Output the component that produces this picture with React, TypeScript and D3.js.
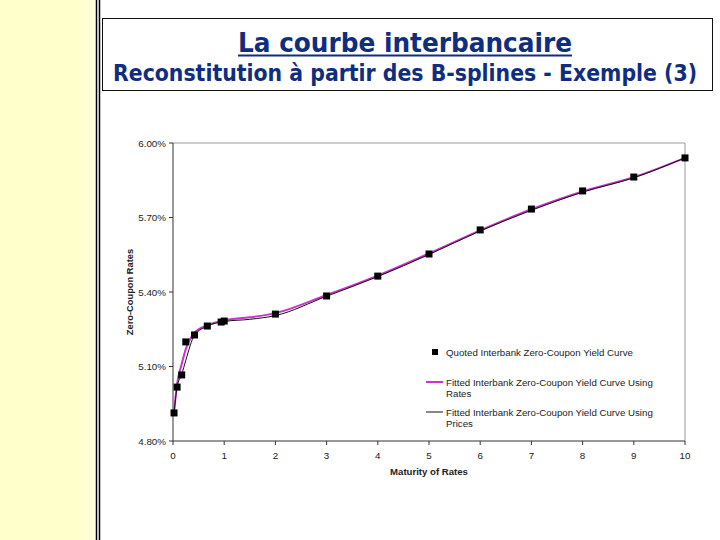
import React from "react";
import * as d3 from "d3";

const quotedMaturities = [0.02, 0.08, 0.17, 0.25, 0.42, 0.67, 0.94, 1.0, 2, 3, 4, 5, 6, 7, 8, 9, 10];
const quotedRates = [4.913, 5.017, 5.066, 5.199, 5.227, 5.263, 5.279, 5.283, 5.311, 5.384, 5.464, 5.553, 5.65, 5.734, 5.807, 5.863, 5.94];

const fitMaturities = [0.02, 0.08, 0.17, 0.25, 0.42, 0.67, 1.0, 1.5, 2, 3, 4, 5, 6, 7, 8, 9, 10];
const fitRatesUsingRates = [4.915, 5.03, 5.11, 5.17, 5.235, 5.266, 5.286, 5.298, 5.315, 5.388, 5.466, 5.555, 5.648, 5.733, 5.805, 5.862, 5.94];
const fitRatesUsingPrices = [4.91, 5.017, 5.068, 5.125, 5.226, 5.262, 5.281, 5.29, 5.305, 5.383, 5.462, 5.551, 5.646, 5.729, 5.802, 5.86, 5.94];

const xTicks = [0, 1, 2, 3, 4, 5, 6, 7, 8, 9, 10];
const yTicks = [4.8, 5.1, 5.4, 5.7, 6.0];

const legendLabels = [
  ["Quoted Interbank Zero-Coupon Yield Curve"],
  ["Fitted Interbank Zero-Coupon Yield Curve Using", "Rates"],
  ["Fitted Interbank Zero-Coupon Yield Curve Using", "Prices"],
];

const titleText = "La courbe interbancaire";
const subtitleText = "Reconstitution à partir des B-splines - Exemple (3)";

export default function App() {
  const x = d3.scaleLinear().domain([0, 10]).range([173, 685]);
  const y = d3.scaleLinear().domain([4.8, 6.0]).range([441, 143]);

  const line = (xs: number[], ys: number[]) =>
    d3
      .line<number>()
      .x((_, i) => x(xs[i]))
      .y((d) => y(d))
      .curve(d3.curveMonotoneX)(ys) || "";

  const chartFont = "'Liberation Sans', Arial, sans-serif";
  const titleFont = "'DejaVu Sans Condensed', 'DejaVu Sans', Verdana, sans-serif";
  const titleColor = "#0F2E80";

  return (
    <svg
      width={720}
      height={540}
      style={{ position: "absolute", left: 0, top: 0, display: "block", background: "#fff" }}
    >
      <defs>
        <linearGradient id="strip" x1="0" x2="1" y1="0" y2="0">
          <stop offset="0" stopColor="#FFFFCC" />
          <stop offset="0.8" stopColor="#FFFFCC" />
          <stop offset="1" stopColor="#FFFFDC" />
        </linearGradient>
      </defs>
      <rect x={0} y={0} width={96} height={540} fill="url(#strip)" />
      <line x1={96.5} x2={96.5} y1={0} y2={540} stroke="#000" strokeWidth={1.5} />
      <line x1={99.5} x2={99.5} y1={0} y2={540} stroke="#000" strokeWidth={1.5} />

      {/* Title box */}
      <rect x={102.5} y={18.5} width={610} height={72} fill="#fff" stroke="#111" strokeWidth={1} />
      <text
        x={405}
        y={51.5}
        textAnchor="middle"
        fontFamily={titleFont}
        fontStretch="condensed"
        fontWeight="bold"
        fontSize={26.5}
        fill={titleColor}
        textLength={334}
        lengthAdjust="spacingAndGlyphs"
      >
        {titleText}
      </text>
      <line x1={238} x2={572} y1={55.5} y2={55.5} stroke={titleColor} strokeWidth={2} />
      <text
        x={405}
        y={80.5}
        textAnchor="middle"
        fontFamily={titleFont}
        fontStretch="condensed"
        fontWeight="bold"
        fontSize={22.5}
        fill={titleColor}
        textLength={584}
        lengthAdjust="spacingAndGlyphs"
      >
        {subtitleText}
      </text>

      {/* Plot frame */}
      <line x1={x(0)} x2={x(10)} y1={y(6.0)} y2={y(6.0)} stroke="#9a9a9a" strokeWidth={1} />
      <line x1={x(10)} x2={x(10)} y1={y(6.0)} y2={y(4.8)} stroke="#9a9a9a" strokeWidth={1} />
      <line x1={x(0)} x2={x(0)} y1={y(6.0)} y2={y(4.8)} stroke="#333" strokeWidth={1} />
      <line x1={x(0)} x2={x(10)} y1={y(4.8)} y2={y(4.8)} stroke="#333" strokeWidth={1} />

      {/* Y ticks */}
      {yTicks.map((t) => (
        <g key={"y" + t}>
          <line x1={x(0) - 4} x2={x(0)} y1={y(t)} y2={y(t)} stroke="#333" />
          <text
            x={166}
            y={y(t) + 3.5}
            textAnchor="end"
            fontFamily={chartFont}
            fontSize={9.8}
            fill="#222"
          >
            {d3.format(".2f")(t) + "%"}
          </text>
        </g>
      ))}

      {/* X ticks */}
      {xTicks.map((t) => (
        <g key={"x" + t}>
          <line x1={x(t)} x2={x(t)} y1={y(4.8)} y2={y(4.8) + 4} stroke="#333" />
          <text
            x={x(t)}
            y={459}
            textAnchor="middle"
            fontFamily={chartFont}
            fontSize={9.8}
            fill="#222"
          >
            {t}
          </text>
        </g>
      ))}

      {/* Axis titles */}
      <text
        x={429}
        y={475}
        textAnchor="middle"
        fontFamily={chartFont}
        fontWeight="bold"
        fontSize={9.6}
        fill="#222"
      >
        Maturity of Rates
      </text>
      <text
        transform={`translate(133, 292) rotate(-90)`}
        textAnchor="middle"
        fontFamily={chartFont}
        fontWeight="bold"
        fontSize={9.3}
        fill="#222"
      >
        Zero-Coupon Rates
      </text>

      {/* Fitted curves */}
      <path d={line(fitMaturities, fitRatesUsingRates)} fill="none" stroke="#CC33CC" strokeWidth={2} />
      <path d={line(fitMaturities, fitRatesUsingPrices)} fill="none" stroke="#111" strokeWidth={1} />

      {/* Quoted points */}
      {quotedMaturities.map((m, i) => (
        <rect
          key={"p" + i}
          x={x(m) - 3.5}
          y={y(quotedRates[i]) - 3.5}
          width={7}
          height={7}
          fill="#000"
        />
      ))}

      {/* Legend */}
      <rect x={432} y={349} width={6} height={6} fill="#000" />
      <line x1={426} x2={443} y1={382} y2={382} stroke="#CC33CC" strokeWidth={2} />
      <line x1={426} x2={443} y1={412} y2={412} stroke="#111" strokeWidth={1} />
      {legendLabels.map((lines, i) => (
        <text
          key={"l" + i}
          x={446}
          y={[355.5, 386, 416][i]}
          fontFamily={chartFont}
          fontSize={9.7}
          fill="#222"
        >
          {lines.map((s, j) => (
            <tspan key={j} x={446} dy={j === 0 ? 0 : 11}>
              {s}
            </tspan>
          ))}
        </text>
      ))}
    </svg>
  );
}
